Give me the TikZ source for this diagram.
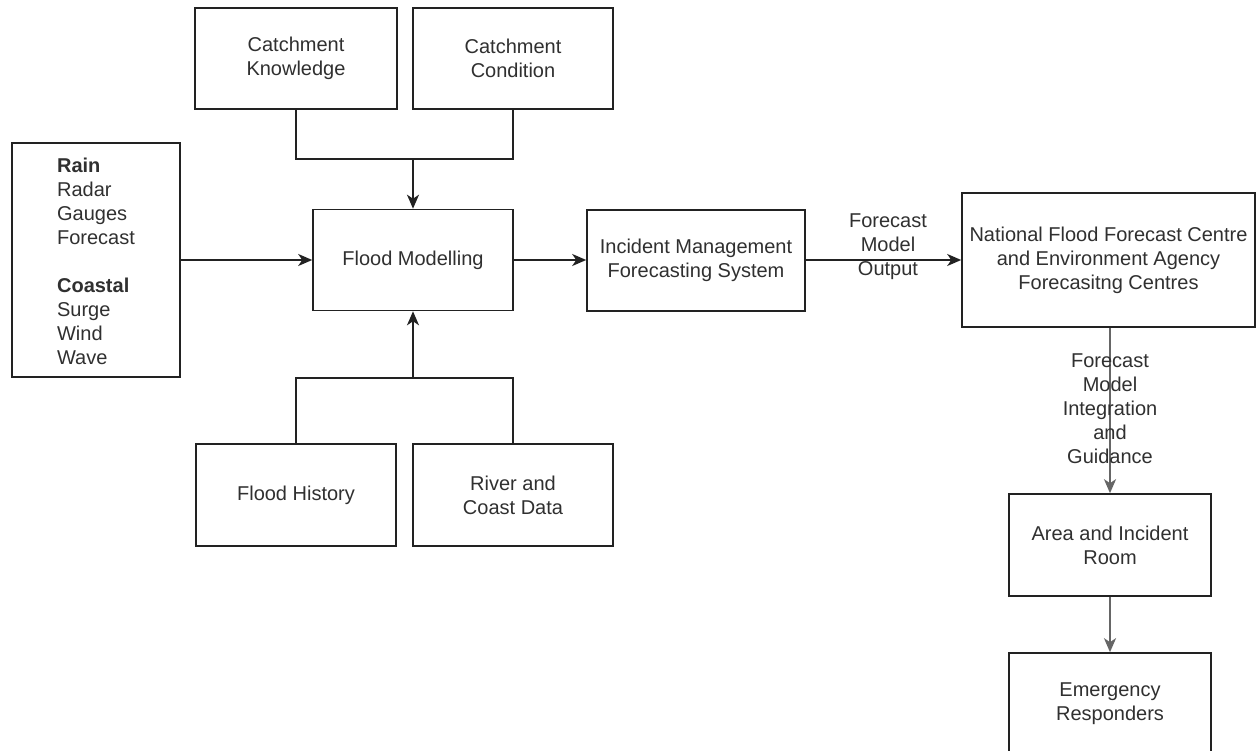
\documentclass[tikz,border=0pt]{standalone}
\usepackage{fontspec}
\setmainfont{Liberation Sans}
\usetikzlibrary{arrows.meta}
\definecolor{ink}{HTML}{222222}
\definecolor{txt}{HTML}{303030}
\definecolor{greyline}{HTML}{666666}
\tikzset{
  box/.style={draw=ink, line width=1.6pt, rectangle, inner sep=0pt,
    text=txt, align=center, font=\fontsize{20}{24}\selectfont},
  conn/.style={draw=ink, line width=1.6pt},
  arr/.style={conn, -{Stealth[length=14pt,width=12pt,inset=4pt]}},
  grarr/.style={draw=greyline, line width=2.2pt, -{Stealth[length=14pt,width=12pt,inset=4pt]}},
  lbl/.style={text=txt, align=center, inner sep=0pt, font=\fontsize{20}{24}\selectfont}
}
\begin{document}
\begin{tikzpicture}[x=1pt,y=-1pt]
\useasboundingbox (0,0) rectangle (1256,751);
\clip (0,0) rectangle (1256,751);
\fill[white] (0,0) rectangle (1256,751);

% input boxes
\node[box, minimum width=168pt, minimum height=234pt] (src) at (96,260) {};
\node[text=txt, align=left, inner sep=0pt, font=\fontsize{20}{24}\selectfont] (srctext) at (96,261)
  {\textbf{Rain}\\Radar\\Gauges\\Forecast\\\mbox{}\\\textbf{Coastal}\\Surge\\Wind\\Wave};
\node[box, minimum width=202pt, minimum height=101pt] (ck) at (296,58.5) {Catchment\\Knowledge};
\node[box, minimum width=200pt, minimum height=101pt] (cc) at (513,58.5) {Catchment\\Condition};
\node[box, minimum width=200pt, minimum height=101pt] (fm) at (413,260) {Flood Modelling};
\node[box, minimum width=200pt, minimum height=102pt] (fh) at (296,495) {Flood History};
\node[box, minimum width=200pt, minimum height=102pt] (rc) at (513,495) {River and\\Coast Data};

% forecasting chain
\node[box, minimum width=218pt, minimum height=101pt] (ims) at (696,260.5) {Incident Management\\Forecasting System};
\node[box, minimum width=293pt, minimum height=134pt] (nffc) at (1108.5,260)
  {National Flood Forecast Centre\\and Environment Agency\\Forecasitng Centres};
\node[box, minimum width=202pt, minimum height=102pt] (air) at (1110,545) {Area and Incident\\Room};
\node[box, minimum width=202pt, minimum height=102pt] (er) at (1110,704) {Emergency\\Responders};

% junctions of the merging connectors
\coordinate (jtop) at (413,159);
\coordinate (jbot) at (413,378);

\draw[conn] (ck.south) |- (jtop) -| (cc.south);
\draw[arr] (jtop) -- (fm.north);
\draw[conn] (fh.north) |- (jbot) -| (rc.north);
\draw[arr] (jbot) -- (fm.south);

\draw[arr] (src.east) -- (src.east -| fm.west);
\draw[arr] (fm.east) -- (fm.east -| ims.west);
\draw[arr] (ims.east |- nffc.west) -- (nffc.west);
\draw[grarr] (air.north |- nffc.south) -- (air.north);
\draw[grarr] (air.south) -- (er.north);

% edge labels
\node[lbl] (out) at (888,247) {Forecast\\Model\\Output};
\node[lbl] (guid) at (1110,408.5) {Forecast\\Model\\Integration\\and\\Guidance};
\end{tikzpicture}
\end{document}
